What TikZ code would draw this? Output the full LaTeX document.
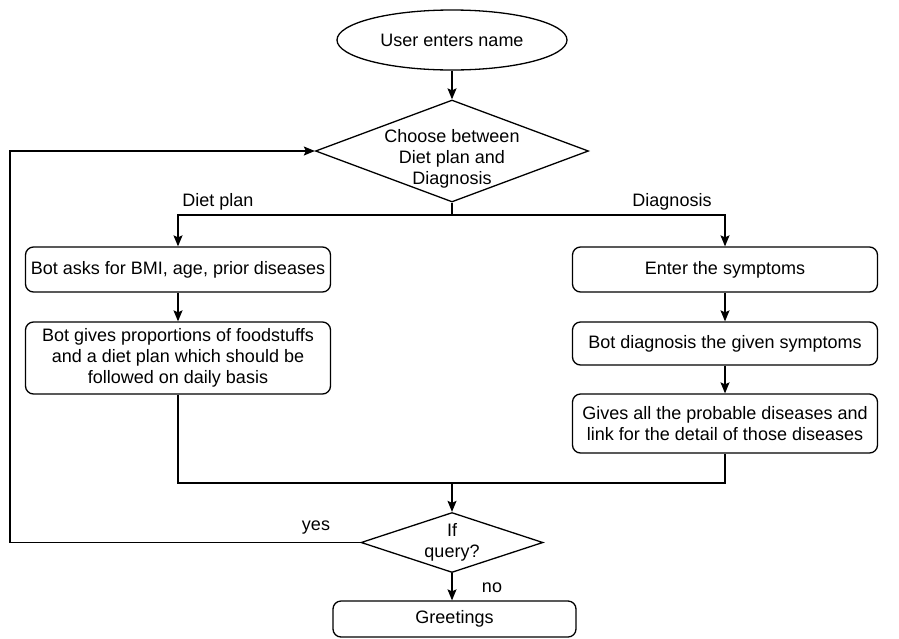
\documentclass[tikz,border=0pt]{standalone}
\usepackage{fontspec}
\setmainfont{Liberation Sans}
\usetikzlibrary{shapes.geometric,arrows.meta}

\begin{document}
\begin{tikzpicture}[x=1pt,y=-1pt,
		every node/.style={font=\fontsize{18}{21}\selectfont, align=center, inner sep=0pt},
		terminal/.style={draw, ellipse, line width=1.3pt, minimum width=230pt, minimum height=60pt},
		decision/.style={draw, diamond, line width=1.3pt},
		process/.style={draw, rounded corners=8pt, line width=1.3pt, minimum width=305pt},
		flow/.style={line width=1.3pt, -{Stealth[length=11pt,width=9pt,inset=2pt]}},
		wire/.style={line width=1.3pt}]
			\useasboundingbox (0,0) rectangle (899,638);
			% start and first choice
			\node[terminal] (start) at (452,40) {User enters name};
			\node[decision, minimum width=273pt, minimum height=102pt,
				label={[align=center, yshift=-8pt]center:{Choose between\\Diet plan and\\Diagnosis}}] (choose) at (452,151) {};
			\coordinate (split) at (452,215);
			% part for diet plan
			\node[process, minimum height=45pt] (asks) at (178,269.5) {Bot asks for BMI, age, prior diseases};
			\node[process, minimum height=72pt] (gives) at (178,358) {Bot gives proportions of foodstuffs\\and a diet plan which should be\\followed on daily basis};
			% part for diagnosis
			\node[process, minimum height=45pt] (symptoms) at (725,269.5) {Enter the symptoms};
			\node[process, minimum height=43pt] (diag) at (725,343.5) {Bot diagnosis the given symptoms};
			\node[process, minimum height=59pt] (probable) at (725,423.5) {Gives all the probable diseases and\\link for the detail of those diseases};
			% query and end
			\coordinate (merge) at (452,483);
			\node[decision, minimum width=182pt, minimum height=60pt,
				label={[align=center]center:{If\\query?}}] (query) at (452,542.5) {};
			\node[process, minimum width=243pt, minimum height=36pt] (greet) at (454.5,619) {Greetings};
			\coordinate (loopcorner) at (10,542.5);
			% branch labels
			\node (dietlbl) at (218,202) {Diet plan};
			\node (diaglbl) at (672,202) {Diagnosis};
			\node (yeslbl) at (316,528) {yes};
			\node (nolbl) at (492,588) {no};
			% connectors
			\draw[flow] (start) -- (choose);
			\draw[wire] (choose.south) -- (split);
			\draw[flow] (split) -| (asks.north);
			\draw[flow] (split) -| (symptoms.north);
			\draw[flow] (asks) -- (gives);
			\draw[flow] (symptoms) -- (diag);
			\draw[flow] (diag) -- (probable);
			\draw[wire] (gives.south) |- (merge) -| (probable.south);
			\draw[flow] (merge) -- (query.north);
			\draw[flow] (query.south) -- (query.south |- greet.north);
			\draw[flow] (query.west) -- (loopcorner) |- (choose.west);
		\end{tikzpicture}
\end{document}
